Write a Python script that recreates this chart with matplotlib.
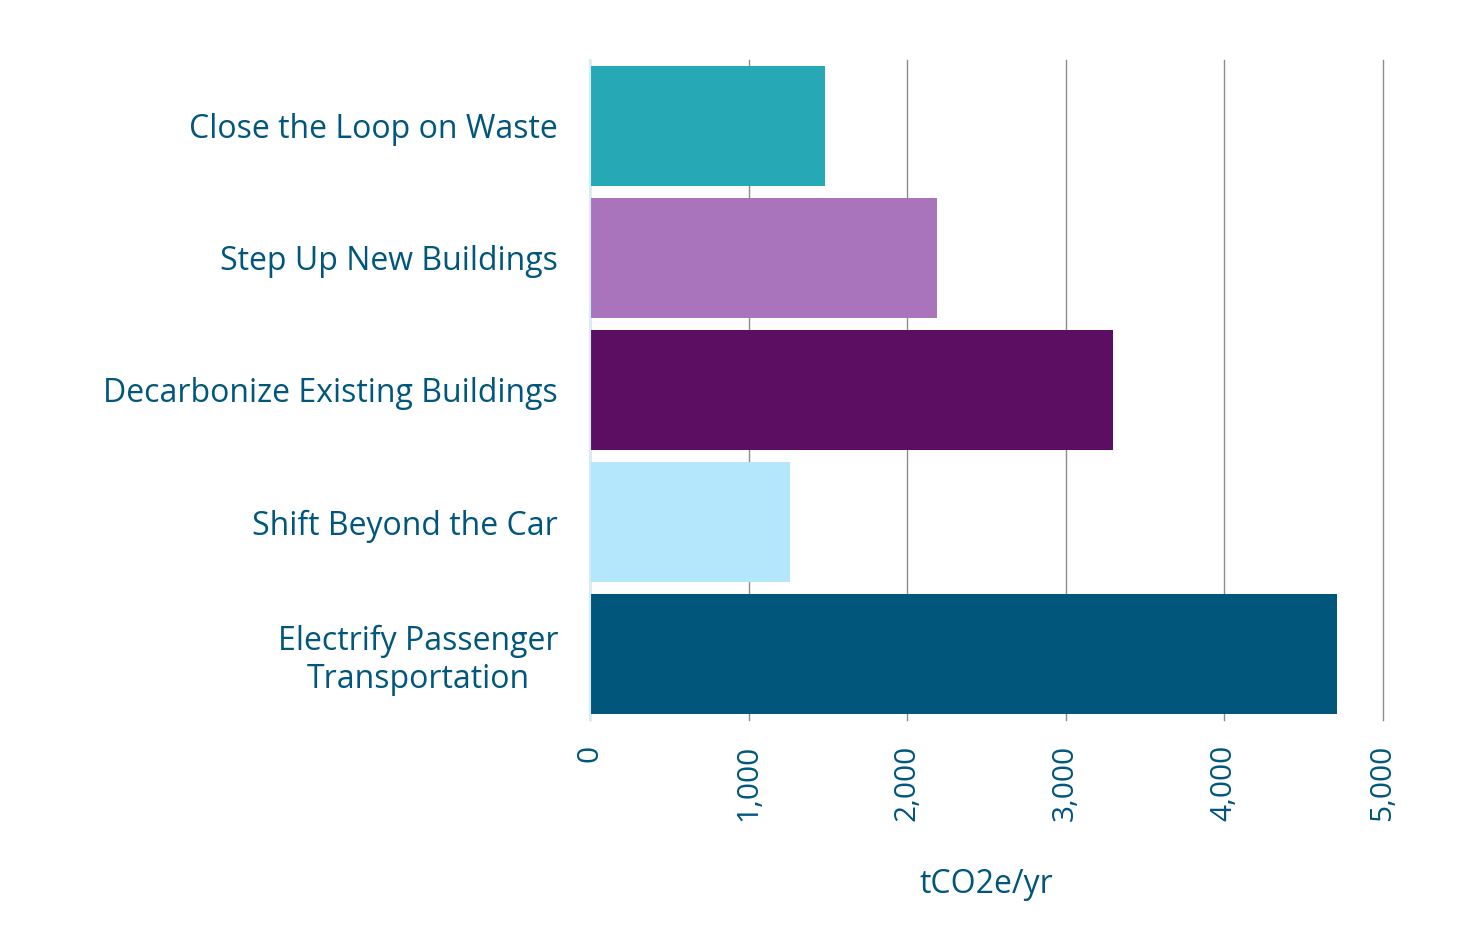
import matplotlib.pyplot as plt
from matplotlib.ticker import FuncFormatter

# Data
categories = [
    "Close the Loop on Waste",
    "Step Up New Buildings",
    "Decarbonize Existing Buildings",
    "Shift Beyond the Car",
    "Electrify Passenger\nTransportation",
]
values = [1480, 2190, 3300, 1260, 4710]
colors = ["#26A9B4", "#A974BC", "#5C0E62", "#B4E6FC", "#00567B"]
x_ticks = [0, 1000, 2000, 3000, 4000, 5000]

text_color = "#00567B"
plt.rcParams['font.family'] = ['Open Sans', 'DejaVu Sans']

fig = plt.figure(figsize=(14.57, 9.35), dpi=100)
ax = fig.add_axes([0.405, 0.230, 0.544, 0.706])

ypos = list(range(len(categories)))
ax.barh(ypos, values, height=0.91, color=colors, zorder=2)

ax.set_ylim(len(categories) - 0.5, -0.5)
ax.set_xlim(0, 5000)
ax.set_yticks(ypos)
ax.set_yticklabels(categories, fontsize=23, color=text_color,
                   multialignment='center', linespacing=1.2)
ax.set_xticks(x_ticks)
ax.xaxis.set_major_formatter(FuncFormatter(lambda v, p: f"{int(v):,}"))
for lbl in ax.get_xticklabels():
    lbl.set_rotation(90)
    lbl.set_fontsize(21.5)
    lbl.set_color(text_color)

ax.tick_params(axis='y', length=0, pad=23)
ax.tick_params(axis='x', length=0, pad=18)

ax.xaxis.grid(True, color="#8C8C8C", linewidth=1, zorder=0)
for gl in ax.get_xgridlines():
    gl.set_clip_on(False)
for s in ['top', 'right', 'bottom']:
    ax.spines[s].set_visible(False)
ax.spines['left'].set_color("#D6ECF7")
ax.spines['left'].set_linewidth(1.5)

ax.set_xlabel("tCO2e/yr", fontsize=23, color=text_color, labelpad=34)

fig.savefig("out.png", dpi=100)
